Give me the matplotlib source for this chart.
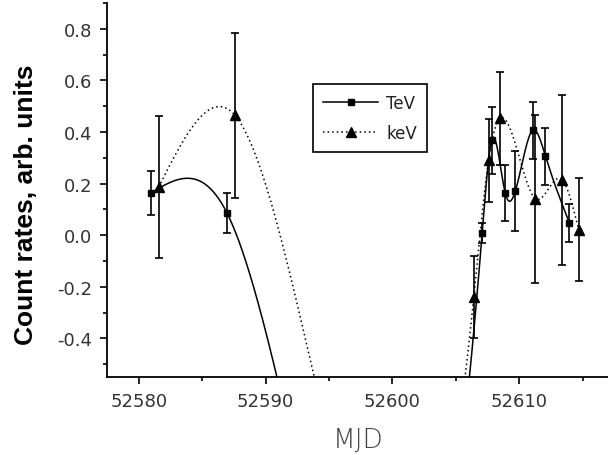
import numpy as np
import matplotlib
matplotlib.use('Agg')
import matplotlib.pyplot as plt
from matplotlib.ticker import MultipleLocator

# TeV data (squares, solid line)
tev_mjd = [52580.94, 52586.97, 52607.08, 52607.84, 52608.90, 52609.70, 52611.07, 52612.07, 52613.96]
tev_rate = [0.163, 0.085, 0.008, 0.368, 0.163, 0.172, 0.407, 0.306, 0.047]
tev_err = [0.084, 0.078, 0.040, 0.130, 0.107, 0.155, 0.110, 0.110, 0.075]

# keV data (triangles, dotted line)
kev_mjd = [52581.57, 52587.60, 52606.42, 52607.58, 52608.52, 52611.28, 52613.38, 52614.69]
kev_rate = [0.186, 0.464, -0.240, 0.290, 0.453, 0.141, 0.215, 0.021]
kev_err = [0.275, 0.320, 0.160, 0.160, 0.180, 0.325, 0.330, 0.200]


def natural_spline(x, y, n=2000):
    # natural cubic spline through the points (like Origin's "Spline" connect)
    x = np.asarray(x, float)
    y = np.asarray(y, float)
    k = len(x)
    h = np.diff(x)
    A = np.zeros((k, k))
    b = np.zeros(k)
    A[0, 0] = 1
    A[-1, -1] = 1
    for i in range(1, k - 1):
        A[i, i - 1] = h[i - 1]
        A[i, i] = 2 * (h[i - 1] + h[i])
        A[i, i + 1] = h[i]
        b[i] = 6 * ((y[i + 1] - y[i]) / h[i] - (y[i] - y[i - 1]) / h[i - 1])
    M = np.linalg.solve(A, b)
    xs = np.linspace(x[0], x[-1], n)
    idx = np.clip(np.searchsorted(x, xs) - 1, 0, k - 2)
    x0, x1 = x[idx], x[idx + 1]
    hh = x1 - x0
    t0 = x1 - xs
    t1 = xs - x0
    ys = (M[idx] * t0 ** 3 + M[idx + 1] * t1 ** 3) / (6 * hh) \
        + (y[idx] / hh - M[idx] * hh / 6) * t0 \
        + (y[idx + 1] / hh - M[idx + 1] * hh / 6) * t1
    return xs, ys


fig = plt.figure(figsize=(6.08, 4.56), dpi=100)
ax = fig.add_axes([107 / 608, 1 - 378 / 456, 1 - 107 / 608, 374 / 456])

xs, ys = natural_spline(tev_mjd, tev_rate)
ax.plot(xs, ys, color='black', lw=1.1, solid_capstyle='butt')
xs, ys = natural_spline(kev_mjd, kev_rate)
ax.plot(xs, ys, color='black', lw=1.1, linestyle=(0, (1, 2)))

ax.errorbar(tev_mjd, tev_rate, yerr=tev_err, fmt='s', color='black', ms=5,
            ecolor='black', elinewidth=1.2, capsize=3, capthick=1.2)
ax.errorbar(kev_mjd, kev_rate, yerr=kev_err, fmt='^', color='black', ms=7,
            ecolor='black', elinewidth=1.2, capsize=3, capthick=1.2)

# legend handles
h1, = ax.plot([], [], '-s', color='black', lw=1.1, ms=5)
h2, = ax.plot([], [], '^', color='black', lw=1.1, ms=7, linestyle=(0, (1, 2)))
leg = ax.legend([h1, h2], ['TeV', 'keV'], loc='upper left',
                bbox_to_anchor=((313 - 107) / 501, (378 - 85) / 374), borderaxespad=0,
                numpoints=1, handlelength=3.3, fancybox=False, framealpha=1,
                edgecolor='black', prop={'family': 'DejaVu Sans', 'size': 12},
                borderpad=0.6, labelspacing=0.7, handletextpad=0.5)
leg.get_frame().set_linewidth(1.2)
for t in leg.get_texts():
    t.set_color('#222222')

ax.set_xlim(52577.5, 52617)
ax.set_ylim(-0.55, 0.9)
ax.xaxis.set_major_locator(MultipleLocator(10))
ax.xaxis.set_minor_locator(MultipleLocator(5))
ax.yaxis.set_major_locator(MultipleLocator(0.2))
ax.yaxis.set_minor_locator(MultipleLocator(0.1))
ax.yaxis.set_major_formatter(matplotlib.ticker.FormatStrFormatter('%.1f'))

for s in ['top', 'right']:
    ax.spines[s].set_visible(False)
for s in ['left', 'bottom']:
    ax.spines[s].set_linewidth(1.3)

ax.tick_params(which='major', direction='out', length=5, width=1.2, pad=5.5,
               labelsize=13, labelcolor='#333333')
ax.tick_params(which='minor', direction='out', length=3, width=1.2)
for lab in ax.get_xticklabels() + ax.get_yticklabels():
    lab.set_family('DejaVu Sans')

fig.text(26 / 608, 1 - 205 / 456, 'Count rates, arb. units', rotation=90,
         ha='center', va='center', fontsize=19, fontweight='bold',
         family='Liberation Sans')
fig.text(358 / 608, 1 - 440 / 456, 'MJD', ha='center', va='center',
         fontsize=19, fontweight='light', color='#444444', family='DejaVu Sans')

fig.savefig('out.png', dpi=100)
